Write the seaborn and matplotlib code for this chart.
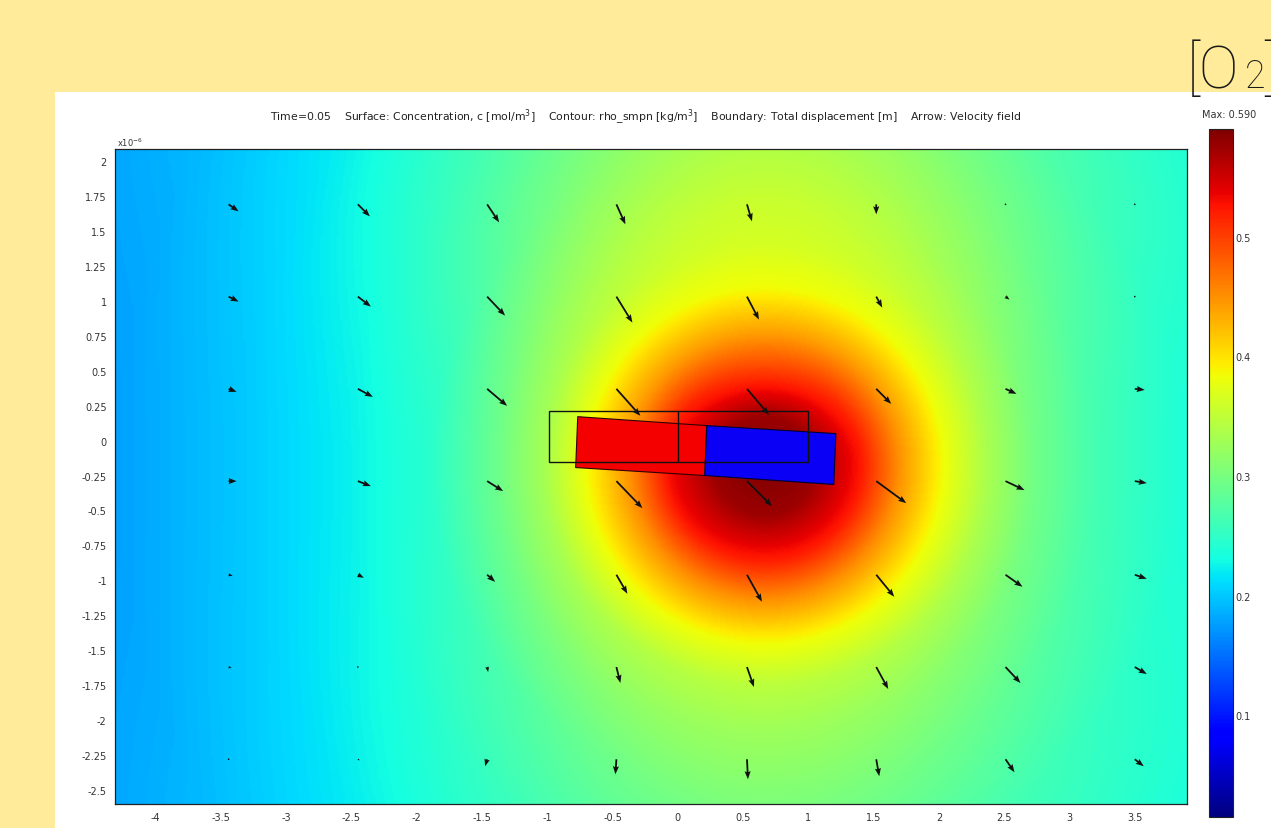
import numpy as np
import matplotlib
matplotlib.use("Agg")
import matplotlib.pyplot as plt
import seaborn as sns
from matplotlib.patches import Polygon, Rectangle

sns.set_theme(style="white")
plt.rcParams['font.family'] = ['DejaVu Sans']

# ---------------- data ----------------
x_ticks = [-4, -3.5, -3, -2.5, -2, -1.5, -1, -0.5, 0, 0.5, 1, 1.5, 2, 2.5, 3, 3.5]
x_tick_labels = ["-4", "-3.5", "-3", "-2.5", "-2", "-1.5", "-1", "-0.5", "0",
                 "0.5", "1", "1.5", "2", "2.5", "3", "3.5"]
y_ticks = [2, 1.75, 1.5, 1.25, 1, 0.75, 0.5, 0.25, 0, -0.25, -0.5, -0.75,
           -1, -1.25, -1.5, -1.75, -2, -2.25, -2.5]
y_tick_labels = ["2", "1.75", "1.5", "1.25", "1", "0.75", "0.5", "0.25", "0",
                 "-0.25", "-0.5", "-0.75", "-1", "-1.25", "-1.5", "-1.75",
                 "-2", "-2.25", "-2.5"]
cbar_ticks = [0.1, 0.2, 0.3, 0.4, 0.5]
c_min, c_max = 0.015, 0.590

# concentration read along four directions from the hot spot (distance -> c)
peak_center = (0.667, -0.179)
profile_r = [0.0, 0.38, 0.73, 1.03, 1.36, 1.70, 2.07, 2.57, 3.22, 4.06, 4.98, 6.13]
profile_left = [0.590, 0.575, 0.53, 0.45, 0.385, 0.33, 0.29, 0.245, 0.222, 0.199, 0.178, 0.165]
profile_right = [0.590, 0.575, 0.525, 0.45, 0.385, 0.335, 0.295, 0.262, 0.238, 0.228, 0.22, 0.21]
profile_up = [0.590, 0.575, 0.50, 0.44, 0.385, 0.365, 0.355, 0.335, 0.30, 0.262, 0.235, 0.215]
profile_down = [0.590, 0.575, 0.52, 0.45, 0.385, 0.345, 0.325, 0.305, 0.278, 0.255, 0.235, 0.215]

# velocity arrows (tails on a regular grid)
arrow_x = [-3.44, -2.45, -1.46, -0.47, 0.53, 1.52, 2.51, 3.50]
arrow_y = [1.69, 1.03, 0.37, -0.29, -0.96, -1.62, -2.28]
arrow_u = [
    [10, 12, 12, 9, 5, 0, 1, 1],
    [10, 13, 18, 16, 12, 6, 4, 1],
    [8, 15, 20, 24, 22, 15, 11, 10],
    [8, 13, 16, 26, 25, 30, 19, 12],
    [4, 6, 8, 11, 15, 18, 17, 12],
    [3, 1, 1, 4, 7, 12, 15, 12],
    [1, 2, -2, -1, 1, 3, 9, 9],
]
arrow_v = [
    [-7, -12, -18, -20, -17, -10, 0, 0],
    [-5, -10, -19, -26, -23, -11, -3, -1],
    [-3, -8, -17, -27, -26, -15, -5, -1],
    [0, -5, -10, -27, -25, -22, -9, -2],
    [-1, -3, -7, -19, -27, -22, -12, -4],
    [-1, 0, -5, -16, -20, -22, -16, -7],
    [0, -1, -7, -15, -20, -17, -13, -7],
]

# geometry: undeformed outline and deformed blocks
outline_x = [-0.99, 0.0, 0.996]
outline_y = [-0.15, 0.215]
red_block_x = [-0.766, 0.222, 0.207, -0.782]
red_block_y = [0.171, 0.107, -0.250, -0.193]
blue_block_x = [0.222, 1.211, 1.195, 0.207]
blue_block_y = [0.107, 0.050, -0.314, -0.250]

xlim = (-4.31, 3.90)
ylim = (-2.60, 2.086)

# ---------------- figure ----------------
W, H = 1271, 829
fig = plt.figure(figsize=(W / 100, H / 100), dpi=100)
fig.patch.set_facecolor("#FFEB99")

# white panel behind the plot
panel = fig.add_axes([55 / W, 0, 1 - 55 / W, (H - 93) / H], zorder=-5)
panel.set_facecolor("white")
panel.set_xticks([])
panel.set_yticks([])
for s in panel.spines.values():
    s.set_visible(False)

ax = fig.add_axes([115 / W, (H - 805) / H, (1187 - 115) / W, (805 - 150) / H])

# field: blend the four directional profiles by direction
nx, ny = 700, 420
gx = np.linspace(xlim[0], xlim[1], nx)
gy = np.linspace(ylim[0], ylim[1], ny)
GX, GY = np.meshgrid(gx, gy)
dx = GX - peak_center[0]
dy = (GY - peak_center[1]) * 1.073
r = np.hypot(dx, dy)
rs = np.where(r == 0, 1e-9, r)
cos2 = (dx / rs) ** 2
sin2 = (dy / rs) ** 2
C = (np.where(dx < 0, cos2, 0) * np.interp(r, profile_r, profile_left)
     + np.where(dx >= 0, cos2, 0) * np.interp(r, profile_r, profile_right)
     + np.where(dy >= 0, sin2, 0) * np.interp(r, profile_r, profile_up)
     + np.where(dy < 0, sin2, 0) * np.interp(r, profile_r, profile_down))
im = ax.imshow(C, origin="lower", extent=[xlim[0], xlim[1], ylim[0], ylim[1]],
               cmap="jet", vmin=c_min, vmax=c_max, aspect="auto",
               interpolation="bilinear", zorder=1)

# deformed blocks
ax.add_patch(Polygon(list(zip(red_block_x, red_block_y)), closed=True,
                     facecolor="#F40000", edgecolor="#300000", lw=0.8, zorder=2))
ax.add_patch(Polygon(list(zip(blue_block_x, blue_block_y)), closed=True,
                     facecolor="#0A00F5", edgecolor="#000030", lw=0.8, zorder=2))
# undeformed outline
ax.add_patch(Rectangle((outline_x[0], outline_y[0]), outline_x[2] - outline_x[0],
                       outline_y[1] - outline_y[0], fill=False,
                       edgecolor="#111111", lw=1.0, zorder=3))
ax.plot([outline_x[1], outline_x[1]], outline_y, color="#111111", lw=1.0, zorder=3)

# arrows
AX, AY = np.meshgrid(arrow_x, arrow_y)
ax.quiver(AX, AY, np.array(arrow_u, float), np.array(arrow_v, float),
          angles="uv", scale_units="dots", scale=1, units="dots",
          width=1.8, headwidth=3.4, headlength=4.5, headaxislength=4.0,
          pivot="tail", color="#111111", zorder=4)

ax.set_xlim(*xlim)
ax.set_ylim(*ylim)
ax.set_xticks(x_ticks)
ax.set_xticklabels(x_tick_labels)
ax.set_yticks(y_ticks)
ax.set_yticklabels(y_tick_labels)
ax.tick_params(axis="both", labelsize=7, colors="#333333", length=0, pad=6)
for s in ax.spines.values():
    s.set_color("#222222")
    s.set_linewidth(0.9)
    s.set_visible(True)

fig.text(117 / W, 1 - 147 / H, "x10$^{-6}$", fontsize=6, color="#333333",
         ha="left", va="baseline")

fig.text(646 / W, 1 - 117 / H,
         "Time=0.05    Surface: Concentration, c [mol/m$^3$]    Contour: rho_smpn [kg/m$^3$]"
         "    Boundary: Total displacement [m]    Arrow: Velocity field",
         fontsize=7.8, color="#222222", ha="center", va="center")

# colorbar
cax = fig.add_axes([1209 / W, (H - 818) / H, 24 / W, (818 - 130) / H])
cb = fig.colorbar(im, cax=cax)
cb.set_ticks(cbar_ticks)
cb.set_ticklabels([f"{t:g}" for t in cbar_ticks])
cax.tick_params(direction="in", length=4, width=0.8, left=True, right=True,
                labelleft=False, labelright=True, labelsize=7, colors="#333333", pad=2)
cb.outline.set_edgecolor("#222222")
cb.outline.set_linewidth(0.8)
fig.text(1229 / W, 1 - 115 / H, "Max: 0.590", fontsize=7, color="#333333",
         ha="center", va="center")

# [O2] label
fig.text(1187 / W, 1 - 88 / H, "[O", fontsize=43, color="#1a1a1a",
         fontfamily="Roboto", fontweight="light", ha="left", va="baseline")
fig.text(1245 / W, 1 - 88 / H, "2", fontsize=27, color="#1a1a1a",
         fontfamily="Roboto", fontweight="light", ha="left", va="baseline")
fig.text(1264 / W, 1 - 88 / H, "]", fontsize=43, color="#1a1a1a",
         fontfamily="Roboto", fontweight="light", ha="left", va="baseline")

fig.savefig("out.png", dpi=100, facecolor=fig.get_facecolor())
